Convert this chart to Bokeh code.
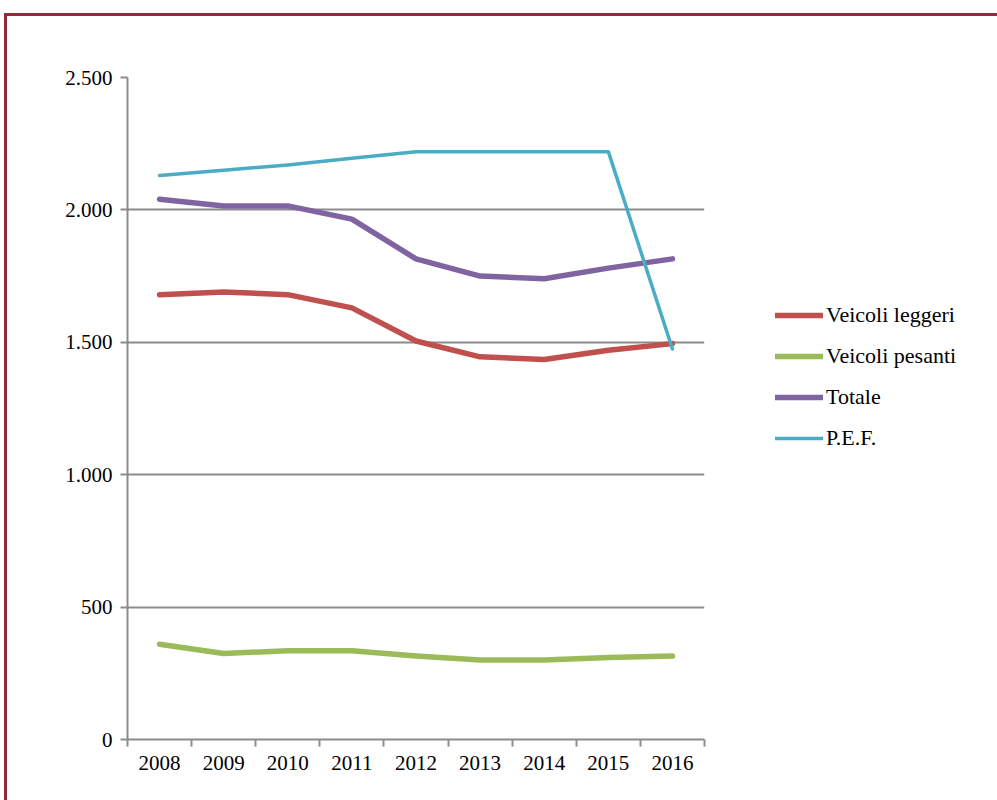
from bokeh.plotting import figure
from bokeh.models import (Range1d, FixedTicker, Legend, LegendItem)
from bokeh.embed import file_html
from bokeh.resources import INLINE

years = ["2008", "2009", "2010", "2011", "2012", "2013", "2014", "2015", "2016"]
veicoli_leggeri = [1680, 1690, 1680, 1630, 1505, 1445, 1435, 1470, 1495]
veicoli_pesanti = [360, 325, 335, 335, 315, 300, 300, 310, 315]
totale = [2040, 2015, 2015, 1965, 1815, 1750, 1740, 1780, 1815]
pef = [2130, 2150, 2170, 2195, 2220, 2220, 2220, 2220, 1475]
y_ticks = [0, 500, 1000, 1500, 2000, 2500]
y_tick_labels = ["0", "500", "1.000", "1.500", "2.000", "2.500"]

series = [
    ("Veicoli leggeri", veicoli_leggeri, "#C0504D", 5.5),
    ("Veicoli pesanti", veicoli_pesanti, "#9BBB59", 5.5),
    ("Totale", totale, "#8064A2", 5.5),
    ("P.E.F.", pef, "#4BACC6", 3.5),
]

FONT = "Liberation Serif"

p = figure(frame_width=577, frame_height=662, output_backend="svg",
           toolbar_location=None,
           x_range=Range1d(0, len(years)), y_range=Range1d(0, 2500),
           min_border_left=120, min_border_right=289,
           min_border_top=61, min_border_bottom=61)
p.outline_line_color = None
p.background_fill_color = "white"
p.border_fill_color = "white"
p.styles = {"margin-left": "4px", "margin-top": "13px",
            "border-top": "3px solid #8E2B3C",
            "border-left": "3px solid #8E2B3C"}

xs = [i + 0.5 for i in range(len(years))]
items = []
for name, vals, color, lw in series:
    r = p.line(xs, vals, line_color=color, line_width=lw,
               line_cap="round", line_join="round")
    items.append(LegendItem(label=name, renderers=[r]))

# x axis
xax = p.xaxis[0]
xax.ticker = FixedTicker(ticks=xs, minor_ticks=list(range(len(years) + 1)))
xax.major_label_overrides = {x: y for x, y in zip(xs, years)}
xax.major_tick_line_color = None
xax.minor_tick_line_color = "#8C8C8C"
xax.minor_tick_line_width = 2
xax.minor_tick_out = 7
xax.minor_tick_in = 0
xax.axis_line_color = "#8C8C8C"
xax.axis_line_width = 2
xax.major_label_text_font = FONT
xax.major_label_text_font_size = "21px"
xax.major_label_text_color = "black"
xax.major_label_standoff = 9

yax = p.yaxis[0]
yax.ticker = FixedTicker(ticks=y_ticks, minor_ticks=[])
yax.major_label_overrides = {t: l for t, l in zip(y_ticks, y_tick_labels)}
yax.major_tick_line_color = "#8C8C8C"
yax.major_tick_line_width = 2
yax.major_tick_out = 7
yax.major_tick_in = 0
yax.axis_line_color = "#8C8C8C"
yax.axis_line_width = 2
yax.major_label_text_font = FONT
yax.major_label_text_font_size = "21px"
yax.major_label_text_color = "black"
yax.major_label_standoff = 8

p.xgrid.grid_line_color = None
p.ygrid.grid_line_color = "#8C8C8C"
p.ygrid.grid_line_width = 2

legend = Legend(items=items, location=(71, 288), padding=0, margin=0,
                spacing=15, glyph_width=48, glyph_height=20, label_height=20,
                label_standoff=3, label_text_font=FONT,
                label_text_font_size="22px", label_text_color="black",
                border_line_color=None, background_fill_alpha=0)
p.add_layout(legend, "right")

open("out.html", "w").write(file_html(p, INLINE))
